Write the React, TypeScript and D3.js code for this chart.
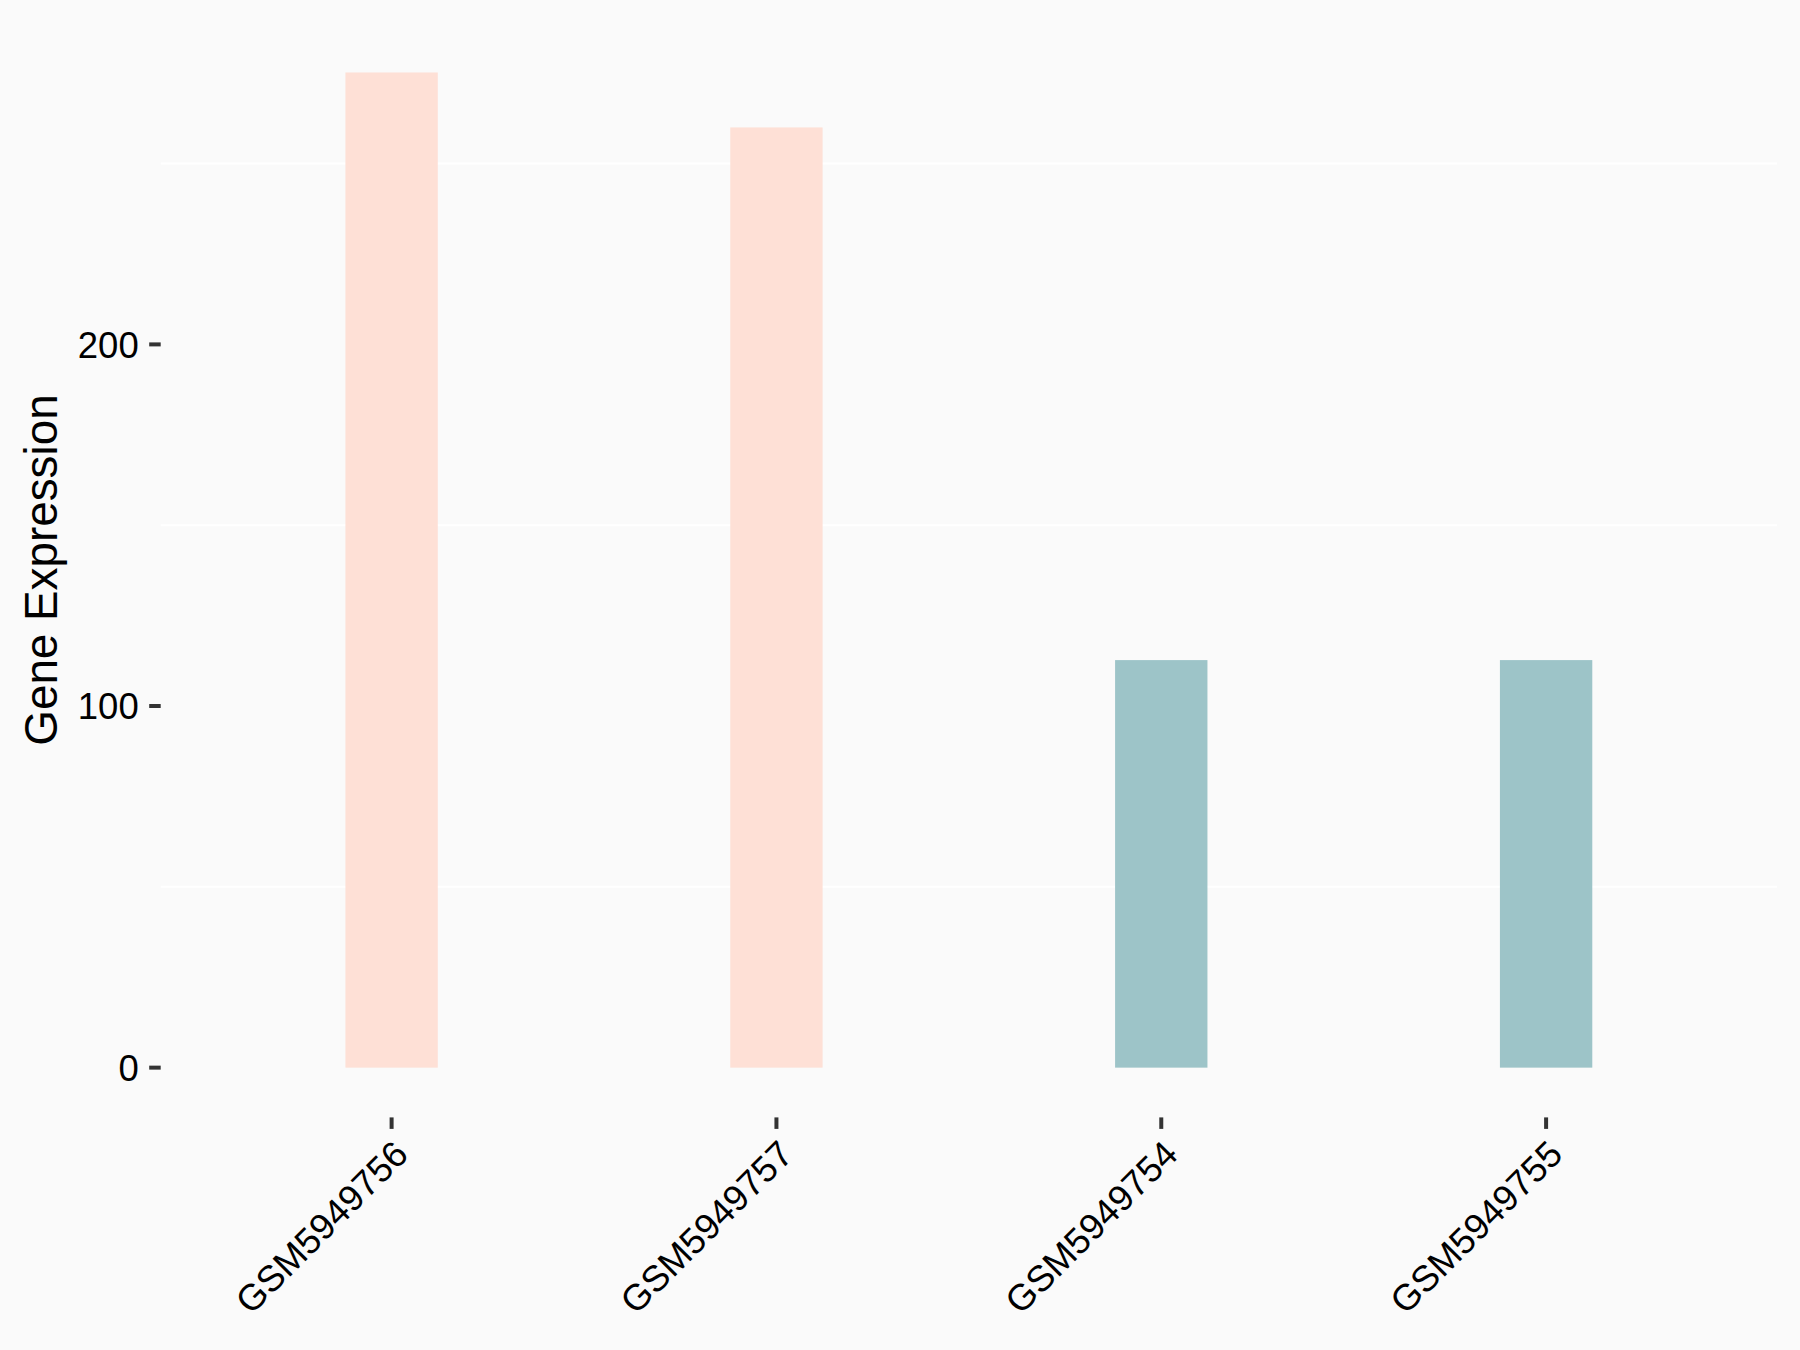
import React from "react";
import * as d3 from "d3";

const categories = ["GSM5949756", "GSM5949757", "GSM5949754", "GSM5949755"];
const values = [275.2, 260.0, 112.7, 112.7];
const groups = ["A", "A", "B", "B"];
const groupColors: Record<string, string> = { A: "#FEE0D6", B: "#9DC4C8" };
const majorTicks = [0, 100, 200];
const minorTicks = [50, 150, 250];
const yTitle = "Gene Expression";

const W = 1800;
const H = 1350;
const panelLeft = 160.7;
const panelRight = 1777;
const panelTop = 22.7;
const panelBottom = 1117.4;
const FONT = "'Liberation Sans', Arial, Helvetica, sans-serif";

export default function App() {
  const maxV = d3.max(values) as number;
  const y = d3
    .scaleLinear()
    .domain([-0.05 * maxV, maxV * 1.05])
    .range([panelBottom, panelTop]);
  const x = d3
    .scalePoint<string>()
    .domain(categories)
    .range([panelLeft, panelRight])
    .padding(0.6);
  const bw = x.step() * 0.24;
  const tickLen = 11.5;

  return (
    <svg
      width={W}
      height={H}
      style={{ position: "absolute", left: 0, top: 0, display: "block" }}
      fontFamily={FONT}
    >
      <rect x={0} y={0} width={W} height={H} fill="#FAFAFA" />
      {minorTicks.map((t) => (
        <line
          key={"g" + t}
          x1={panelLeft}
          x2={panelRight}
          y1={y(t)}
          y2={y(t)}
          stroke="#FFFFFF"
          strokeWidth={2}
        />
      ))}
      {categories.map((c, i) => (
        <rect
          key={c}
          x={(x(c) as number) - bw / 2}
          y={y(values[i])}
          width={bw}
          height={y(0) - y(values[i])}
          fill={groupColors[groups[i]]}
        />
      ))}
      {majorTicks.map((t) => (
        <g key={"y" + t}>
          <line
            x1={panelLeft - tickLen}
            x2={panelLeft}
            y1={y(t)}
            y2={y(t)}
            stroke="#333333"
            strokeWidth={4}
          />
          <text
            x={panelLeft - tickLen - 10.5}
            y={y(t)}
            dy="0.36em"
            textAnchor="end"
            fontSize={36.5}
            fill="#000000"
          >
            {t}
          </text>
        </g>
      ))}
      {categories.map((c) => {
        const cx = x(c) as number;
        return (
          <g key={"x" + c}>
            <line
              x1={cx}
              x2={cx}
              y1={panelBottom}
              y2={panelBottom + tickLen}
              stroke="#333333"
              strokeWidth={4}
            />
            <text
              transform={`translate(${cx},${panelBottom + tickLen + 9}) rotate(-45)`}
              textAnchor="end"
              dy="0.72em"
              fontSize={36.5}
              fill="#000000"
            >
              {c}
            </text>
          </g>
        );
      })}
      <text
        transform={`translate(${57},${(panelTop + panelBottom) / 2}) rotate(-90)`}
        textAnchor="middle"
        fontSize={45.8}
        fill="#000000"
      >
        {yTitle}
      </text>
    </svg>
  );
}
